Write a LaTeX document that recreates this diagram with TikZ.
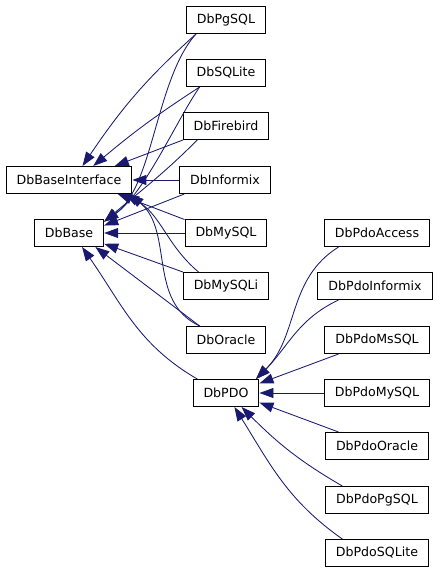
\documentclass[tikz,border=0pt]{standalone}
\usepackage{fontspec}
\setmainfont{DejaVu Sans}
\usetikzlibrary{arrows.meta}
\definecolor{ink}{RGB}{0,0,0}
\definecolor{linkblue}{RGB}{25,25,112}
\tikzset{
  every picture/.style={x=1pt, y=1pt},
  box/.style={draw=ink, fill=white, line width=1pt, inner xsep=10.5pt, inner ysep=0pt,
    minimum height=27pt, font=\fontsize{12.6}{14}\selectfont},
  inherit/.style={-{Triangle[length=14pt,width=10pt]}, draw=linkblue, line width=0.85pt},
}

\begin{document}
\begin{tikzpicture}
  \useasboundingbox (0,0) rectangle (440,-573);
  % base classes
  \node[box] (iface) at (69,-180) {DbBaseInterface};
  \node[box] (base) at (69,-233) {DbBase};
  % drivers
  \node[box] (pgsql) at (226,-20) {DbPgSQL};
  \node[box] (sqlite) at (226,-73) {DbSQLite};
  \node[box] (firebird) at (226,-126) {DbFirebird};
  \node[box] (informix) at (225,-180) {DbInformix};
  \node[box] (mysql) at (226,-233) {DbMySQL};
  \node[box] (mysqli) at (226,-286) {DbMySQLi};
  \node[box] (oracle) at (226,-340) {DbOracle};
  \node[box] (pdo) at (226,-393) {DbPDO};
  % pdo drivers
  \node[box] (pdoaccess) at (377,-233) {DbPdoAccess};
  \node[box] (pdoinformix) at (375,-286) {DbPdoInformix};
  \node[box] (pdomssql) at (377,-340) {DbPdoMsSQL};
  \node[box] (pdomysql) at (377,-393) {DbPdoMySQL};
  \node[box] (pdooracle) at (377,-446) {DbPdoOracle};
  \node[box] (pdopgsql) at (377,-500) {DbPdoPgSQL};
  \node[box] (pdosqlite) at (377,-553) {DbPdoSQLite};
  % to DbBaseInterface
  \draw[inherit] (pgsql.205) to[out=222, in=56] (iface.46);
  \draw[inherit] (sqlite.208) to[out=213, in=40] (iface.30);
  \draw[inherit] (firebird.198) -- (iface.17);
  \draw[inherit] (informix.west) -- (iface.east);
  \draw[inherit] (mysql.162) -- (iface.-16);
  \draw[inherit] (mysqli.153) to[out=140, in=-30] (iface.-14.5);
  \draw[inherit] (oracle.152) to[out=155, in=-40] (iface.-13.5);
  % to DbBase
  \draw[inherit] (pgsql.205) .. controls +(228:60) and +(35:60) .. (base.18);
  \draw[inherit] (sqlite.208) .. controls +(235:40) and +(35:50) .. (base.18);
  \draw[inherit] (firebird.206) to[out=225, in=40] (base.18);
  \draw[inherit] (informix.199) -- (base.12);
  \draw[inherit] (mysql.west) -- (base.east);
  \draw[inherit] (mysqli.162) -- (base.-17);
  \draw[inherit] (oracle.152) -- (base.-28);
  \draw[inherit] (pdo.154) to[out=150, in=-55] (base.-47);
  % to DbPDO
  \draw[inherit] (pdoaccess.200) to[out=212, in=45] (pdo.25);
  \draw[inherit] (pdoinformix.201) to[out=205, in=45] (pdo.25);
  \draw[inherit] (pdomssql.200) -- (pdo.16);
  \draw[inherit] (pdomysql.west) -- (pdo.east);
  \draw[inherit] (pdooracle.160) -- (pdo.-16);
  \draw[inherit] (pdopgsql.158) to[out=150, in=-45] (pdo.-42);
  \draw[inherit] (pdosqlite.158) to[out=145, in=-58] (pdo.-59);
\end{tikzpicture}
\end{document}
